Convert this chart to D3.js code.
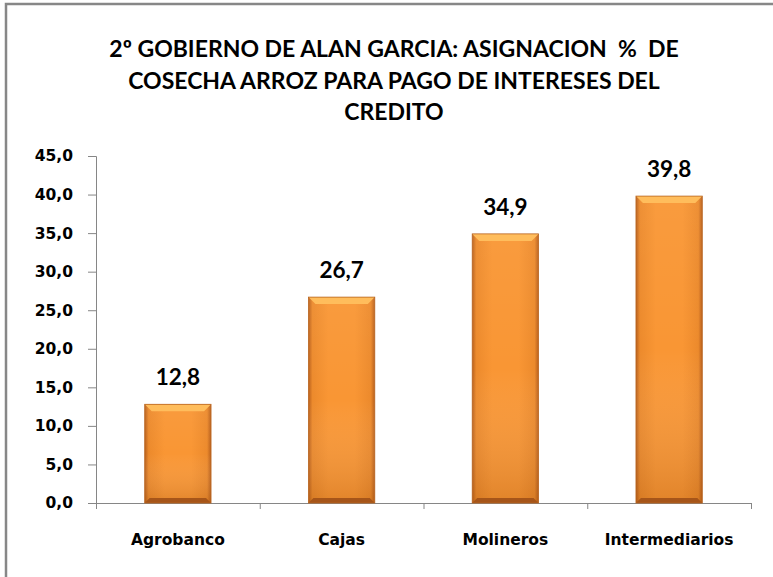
<!DOCTYPE html>
<html>
<head>
<meta charset="utf-8">
<script src="https://cdn.jsdelivr.net/npm/d3@7"></script>
<style>
  body { margin: 0; background: #fff; }
  .titleText { font-family: Lato, "Open Sans", sans-serif; font-weight: bold; font-size: 23px; fill: #000; }
  .tickText { font-family: "DejaVu Sans", sans-serif; font-weight: bold; font-size: 15.5px; fill: #000; }
  .catText { font-family: "DejaVu Sans", sans-serif; font-weight: bold; font-size: 15.5px; fill: #000; }
  .valueText { font-family: Lato, sans-serif; font-weight: bold; font-size: 22.5px; fill: #000; }
</style>
</head>
<body>
<div id="chart"></div>
<script>
// data
var categories = ["Agrobanco", "Cajas", "Molineros", "Intermediarios"];
var values = [12.8, 26.7, 34.9, 39.8];
var yTicks = [0, 5, 10, 15, 20, 25, 30, 35, 40, 45];
var titleLines = [
	"2º GOBIERNO DE ALAN GARCIA: ASIGNACION  %  DE",
	"COSECHA ARROZ PARA PAGO DE INTERESES DEL",
	"CREDITO"
];

var width = 773, height = 577;
var plot = { left: 96, right: 751, top: 156, bottom: 503 };

var svg = d3.select("#chart").append("svg")
	.attr("width", width)
	.attr("height", height);

// frame (only top and left edges visible)
svg.append("path")
	.attr("d", "M6,577 V4 H773")
	.attr("fill", "none")
	.attr("stroke", "#878787")
	.attr("stroke-width", 2.5);

// gradients
var defs = svg.append("defs");
var body = defs.append("linearGradient").attr("id", "barBody")
	.attr("x1", "0").attr("x2", "1").attr("y1", "0").attr("y2", "0");
body.append("stop").attr("offset", "0%").attr("stop-color", "#b9601c");
body.append("stop").attr("offset", "6%").attr("stop-color", "#ec8a2c");
body.append("stop").attr("offset", "30%").attr("stop-color", "#f99634");
body.append("stop").attr("offset", "70%").attr("stop-color", "#f99634");
body.append("stop").attr("offset", "94%").attr("stop-color", "#ec8a2c");
body.append("stop").attr("offset", "100%").attr("stop-color", "#b9601c");

var shade = defs.append("linearGradient").attr("id", "barShade")
	.attr("x1", "0").attr("x2", "0").attr("y1", "0").attr("y2", "1");
shade.append("stop").attr("offset", "0%").attr("stop-color", "#ffffff").attr("stop-opacity", 0.05);
shade.append("stop").attr("offset", "50%").attr("stop-color", "#ffffff").attr("stop-opacity", 0);
shade.append("stop").attr("offset", "100%").attr("stop-color", "#8a4000").attr("stop-opacity", 0.22);

// scales
var x = d3.scaleBand().domain(categories).range([plot.left, plot.right]).paddingInner(0).paddingOuter(0);
var y = d3.scaleLinear().domain([0, 45]).range([plot.bottom, plot.top]);
var barW = x.bandwidth() * 0.405;

// Title
svg.selectAll(".titleText").data(titleLines).enter().append("text")
	.attr("class", "titleText")
	.attr("x", 394)
	.attr("y", function(d, i) { return 57 + i * 31.5; })
	.attr("text-anchor", "middle")
	.style("white-space", "pre")
	.text(function(d) { return d; });

// y axis
var yAxis = svg.append("g")
	.attr("transform", "translate(" + plot.left + ",0)")
	.call(d3.axisLeft(y).tickValues(yTicks).tickSize(8).tickPadding(15)
		.tickFormat(function(d) { return d3.format(".1f")(d).replace(".", ","); }));
yAxis.select(".domain").attr("stroke", "#868686");
yAxis.selectAll(".tick line").attr("stroke", "#868686");
yAxis.selectAll(".tick text").attr("class", "tickText").attr("fill", "#000");

// x axis
var xAxis = svg.append("g")
	.attr("transform", "translate(0," + plot.bottom + ")")
	.call(d3.axisBottom(x).tickSize(0).tickPadding(0).tickFormat(""));
xAxis.select(".domain").attr("stroke", "#868686").attr("d", "M" + plot.left + ",0.5H" + plot.right);
var bounds = categories.map(function(c) { return x(c); }).concat([plot.right]);
xAxis.selectAll(".bound").data(bounds).enter().append("line")
	.attr("x1", function(d) { return d + 0.5; }).attr("x2", function(d) { return d + 0.5; })
	.attr("y1", 0).attr("y2", 6)
	.attr("stroke", "#868686");
svg.selectAll(".catText").data(categories).enter().append("text")
	.attr("class", "catText")
	.attr("x", function(d) { return x(d) + x.bandwidth() / 2; })
	.attr("y", 545)
	.attr("text-anchor", "middle")
	.text(function(d) { return d; });

// bars
var bars = svg.selectAll(".bar").data(values).enter().append("g").attr("class", "bar");
function bx(i) { return x(categories[i]) + (x.bandwidth() - barW) / 2; }

bars.append("rect")
	.attr("x", function(d, i) { return bx(i); })
	.attr("y", function(d) { return y(d); })
	.attr("width", barW)
	.attr("height", function(d) { return y(0) - y(d); })
	.attr("fill", "url(#barBody)");
bars.append("rect")
	.attr("x", function(d, i) { return bx(i); })
	.attr("y", function(d) { return y(d); })
	.attr("width", barW)
	.attr("height", function(d) { return y(0) - y(d); })
	.attr("fill", "url(#barShade)");
// top bevel
bars.append("path")
	.attr("d", function(d, i) {
		var x0 = bx(i), y0 = y(d), b = 7;
		return "M" + x0 + "," + y0 + "H" + (x0 + barW) + "L" + (x0 + barW - b) + "," + (y0 + b) +
			"H" + (x0 + b) + "Z";
	})
	.attr("fill", "#ffbd5c");
// bottom bevel
bars.append("path")
	.attr("d", function(d, i) {
		var x0 = bx(i), y0 = y(0), b = 5;
		return "M" + x0 + "," + y0 + "H" + (x0 + barW) + "L" + (x0 + barW - b) + "," + (y0 - b) +
			"H" + (x0 + b) + "Z";
	})
	.attr("fill", "#a65519");
bars.append("rect")
	.attr("x", function(d, i) { return bx(i); })
	.attr("y", function(d) { return y(d); })
	.attr("width", barW)
	.attr("height", function(d) { return y(0) - y(d); })
	.attr("fill", "none")
	.attr("stroke", "#b8641f")
	.attr("stroke-width", 0.8);

// value labels
svg.selectAll(".valueText").data(values).enter().append("text")
	.attr("class", "valueText")
	.attr("x", function(d, i) { return x(categories[i]) + x.bandwidth() / 2; })
	.attr("y", function(d) { return y(d) - 19; })
	.attr("text-anchor", "middle")
	.text(function(d) { return d3.format(".1f")(d).replace(".", ","); });
</script>
</body>
</html>
